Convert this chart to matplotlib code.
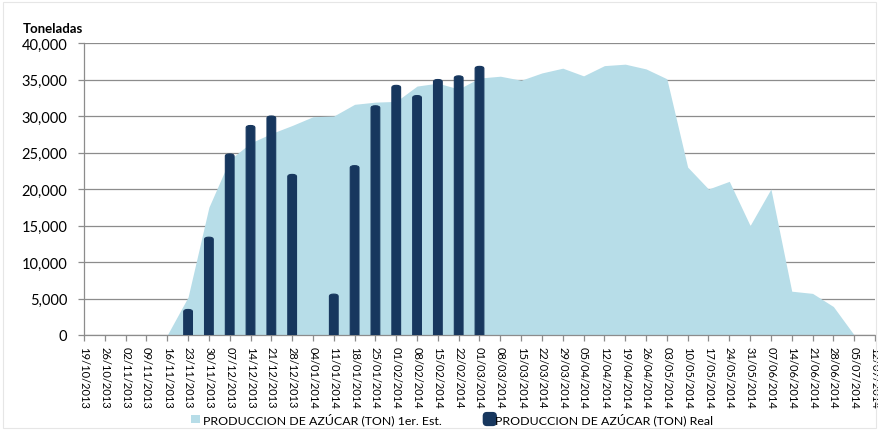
import matplotlib.pyplot as plt
from matplotlib.patches import Rectangle, FancyBboxPatch
from matplotlib.legend_handler import HandlerPatch

plt.rcParams['font.family'] = ['Lato', 'DejaVu Sans']

# weekly dates
fechas = ['19/10/2013', '26/10/2013', '02/11/2013', '09/11/2013', '16/11/2013',
          '23/11/2013', '30/11/2013', '07/12/2013', '14/12/2013', '21/12/2013',
          '28/12/2013', '04/01/2014', '11/01/2014', '18/01/2014', '25/01/2014',
          '01/02/2014', '08/02/2014', '15/02/2014', '22/02/2014', '01/03/2014',
          '08/03/2014', '15/03/2014', '22/03/2014', '29/03/2014', '05/04/2014',
          '12/04/2014', '19/04/2014', '26/04/2014', '03/05/2014', '10/05/2014',
          '17/05/2014', '24/05/2014', '31/05/2014', '07/06/2014', '14/06/2014',
          '21/06/2014', '28/06/2014', '05/07/2014', '12/07/2014']

# 1er. estimado (area), last date has no value
estimado = [0, 0, 0, 0, 0, 5200, 17500, 24000, 26300, 27600,
            28700, 29900, 30000, 31600, 31900, 32000, 34100, 34500, 33700, 35200,
            35450, 34900, 35900, 36550, 35500, 36900, 37100, 36450, 35100, 23000,
            20000, 21050, 15000, 20000, 6000, 5700, 3900, 0]

# real (bars), None where there is no value
real = [None, None, None, None, None, 3500, 13400, 24800, 28700, 30000,
        22000, None, 5600, 23200, 31400, 34200, 32800, 35000, 35500, 36800]

c_area = '#B7DDE8'
c_bar = '#17375E'
c_grid = '#8C8C8C'

fig = plt.figure(figsize=(8.79, 4.31), dpi=100)
ax = fig.add_axes([84 / 879, 1 - 336 / 431, (875 - 84) / 879, (336 - 44) / 431])

x_est = list(range(len(estimado)))
ax.fill_between(x_est, estimado, 0, color=c_area, linewidth=0, zorder=2)

for i, v in enumerate(real):
    if v is None:
        continue
    w = 0.42
    p = FancyBboxPatch((i - w / 2, -2000), w, v + 2000,
                       boxstyle='round,pad=0,rounding_size=0.2',
                       mutation_aspect=1500,
                       facecolor=c_bar, edgecolor=c_bar, linewidth=0.8,
                       zorder=3, clip_on=True)
    ax.add_patch(p)

ax.set_xlim(0, len(fechas) - 1)
ax.set_ylim(0, 40000)
ax.set_yticks(range(0, 40001, 5000))
ax.set_yticklabels([f'{v:,}' for v in range(0, 40001, 5000)], fontsize=10.5)
ax.set_xticks(range(len(fechas)))
ax.set_xticklabels(fechas, rotation=-90, fontsize=8.0, va='top', ha='center')

ax.yaxis.grid(True, color=c_grid, linewidth=0.9, zorder=1)
ax.set_axisbelow(True)
for s in ['top', 'right']:
    ax.spines[s].set_visible(False)
for s in ['left', 'bottom']:
    ax.spines[s].set_color(c_grid)
    ax.spines[s].set_linewidth(0.9)
ax.tick_params(axis='both', colors=c_grid, length=4, width=0.9, labelcolor='black')
ax.tick_params(axis='y', pad=8)
ax.tick_params(axis='x', pad=4)

fig.text(23 / 879, 1 - 29 / 431, 'Toneladas', fontsize=9.5, fontweight='bold',
         va='center', ha='left')

# legend
class RoundHandler(HandlerPatch):
    def create_artists(self, legend, orig_handle, xdescent, ydescent, width, height, fontsize, trans):
        s = height + 3
        p = FancyBboxPatch((-xdescent, -ydescent - 1.5), s, s,
                           boxstyle='round,pad=0,rounding_size=2.5',
                           facecolor=c_bar, edgecolor=c_bar, transform=trans)
        return [p]

h1 = Rectangle((0, 0), 1, 1, facecolor=c_area, edgecolor='none')
h2 = Rectangle((0, 0), 1, 1, facecolor=c_bar, edgecolor='none')
fig.legend([h1, h2], ['PRODUCCION DE AZÚCAR (TON) 1er. Est.', 'PRODUCCION DE AZÚCAR (TON) Real'],
           loc='center', bbox_to_anchor=(452 / 879, 1 - 420 / 431), ncol=2,
           frameon=False, fontsize=8.9, handlelength=0.7, handleheight=0.7,
           handletextpad=0.25, columnspacing=3.4, borderpad=0,
           handler_map={h2: RoundHandler()})

fig.patches.append(Rectangle((3 / 879, 2 / 431), 873 / 879, 426 / 431, transform=fig.transFigure,
                             fill=False, edgecolor='#E6E6E6', linewidth=0.8))

fig.savefig('out.png', dpi=100)
